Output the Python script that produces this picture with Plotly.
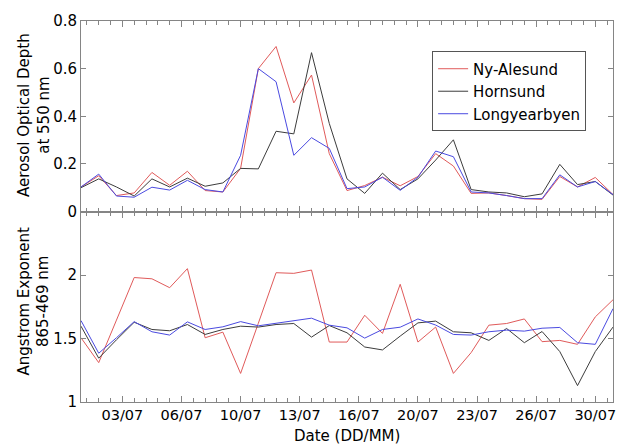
import plotly.graph_objects as go

days = list(range(1, 32))

aod_ny = [0.103, 0.150, 0.067, 0.078, 0.164, 0.110, 0.169, 0.088, 0.082, 0.181,
          0.600, 0.693, 0.456, 0.573, 0.243, 0.088, 0.109, 0.144, 0.108, 0.147,
          0.243, 0.191, 0.076, 0.078, 0.067, 0.054, 0.051, 0.147, 0.103, 0.143, 0.071]
aod_horn = [0.100, 0.137, 0.103, 0.065, 0.137, 0.103, 0.140, 0.106, 0.120, 0.181,
            0.179, 0.337, 0.326, 0.667, 0.370, 0.137, 0.076, 0.161, 0.092, 0.137,
            0.216, 0.301, 0.092, 0.082, 0.078, 0.062, 0.074, 0.198, 0.113, 0.126, 0.069]
aod_long = [0.103, 0.157, 0.065, 0.060, 0.102, 0.090, 0.131, 0.092, 0.082, 0.236,
            0.600, 0.545, 0.236, 0.310, 0.265, 0.096, 0.103, 0.144, 0.089, 0.144,
            0.254, 0.230, 0.082, 0.078, 0.067, 0.054, 0.054, 0.154, 0.103, 0.126, 0.071]

ae_ny = [1.506, 1.310, 1.645, 1.980, 1.970, 1.900, 2.050, 1.506, 1.550, 1.225,
         1.620, 2.018, 2.013, 2.039, 1.472, 1.472, 1.683, 1.540, 1.927, 1.472,
         1.590, 1.225, 1.389, 1.605, 1.618, 1.654, 1.475, 1.485, 1.454, 1.670, 1.805]
ae_horn = [1.597, 1.345, 1.490, 1.628, 1.571, 1.561, 1.610, 1.532, 1.571, 1.597,
           1.590, 1.610, 1.618, 1.511, 1.602, 1.545, 1.433, 1.410, 1.519, 1.623,
           1.637, 1.553, 1.545, 1.485, 1.579, 1.467, 1.555, 1.397, 1.129, 1.397, 1.590]
ae_long = [1.641, 1.384, 1.506, 1.633, 1.553, 1.527, 1.631, 1.571, 1.592, 1.633,
           1.600, 1.618, 1.639, 1.660, 1.605, 1.584, 1.503, 1.571, 1.589, 1.654,
           1.606, 1.532, 1.527, 1.553, 1.566, 1.558, 1.581, 1.587, 1.467, 1.454, 1.735]

series_names = ["Ny-Alesund", "Hornsund", "Longyearbyen"]
series_colors = ["#e05a5a", "#3c3c3c", "#4a4ae0"]

x_tickvals = [10 / 3, 20 / 3, 10, 40 / 3, 50 / 3, 20, 70 / 3, 80 / 3, 30]
x_ticktext = ["03/07", "06/07", "10/07", "13/07", "16/07", "20/07", "23/07", "26/07", "30/07"]
x_minor = [k * 2 / 3 for k in range(2, 47)]

aod_ticks = [0, 0.2, 0.4, 0.6, 0.8]
aod_text = ["0", "0.2", "0.4", "0.6", "0.8"]
ae_ticks = [1, 1.5, 2]
ae_text = ["1", "1.5", "2"]

FONT = "DejaVu Sans"
AX = "#858585"

fig = go.Figure()
for name, col, ya, yb in zip(series_names, series_colors,
                             [aod_ny, aod_horn, aod_long], [ae_ny, ae_horn, ae_long]):
    fig.add_trace(go.Scatter(x=days, y=ya, mode="lines", name=name,
                             line=dict(color=col, width=1), xaxis="x", yaxis="y"))
    fig.add_trace(go.Scatter(x=days, y=yb, mode="lines", name=name, showlegend=False,
                             line=dict(color=col, width=1), xaxis="x2", yaxis="y2"))

common_x = dict(range=[1, 31], tickmode="array", tickvals=x_tickvals, ticktext=x_ticktext,
                ticks="inside", ticklen=6, tickcolor=AX, showline=True, linecolor=AX,
                linewidth=1, mirror="ticks", showgrid=False, zeroline=False,
                minor=dict(tickvals=x_minor, ticks="inside", ticklen=4, tickcolor=AX,
                           showgrid=False))
common_y = dict(ticks="inside", ticklen=5, tickcolor=AX, showline=True, linecolor=AX,
                linewidth=1, mirror="ticks", showgrid=False, zeroline=False,
                tickmode="array")

fig.update_layout(
    width=628, height=448,
    margin=dict(l=81, r=14, t=15, b=46),
    paper_bgcolor="white", plot_bgcolor="white",
    font=dict(family=FONT, size=15, color="black"),
    xaxis=dict(common_x, domain=[0, 1], anchor="y", showticklabels=False),
    yaxis=dict(common_y, domain=[0.5, 1], anchor="x", range=[0, 0.8],
               tickvals=aod_ticks, ticktext=aod_text),
    xaxis2=dict(common_x, domain=[0, 1], anchor="y2", showticklabels=True,
                matches="x", tickfont=dict(family=FONT, size=14.5)),
    yaxis2=dict(common_y, domain=[0, 0.5], anchor="x2", range=[1, 2.5],
                tickvals=ae_ticks, ticktext=ae_text),
    legend=dict(x=0.66, y=0.92, xanchor="left", yanchor="top",
                bgcolor="white", bordercolor="#555555", borderwidth=1,
                itemwidth=30, font=dict(family=FONT, size=15), tracegroupgap=0),
    showlegend=True,
    annotations=[
        dict(text="Aerosol Optical Depth<br>at 550 nm", textangle=-90, xref="paper",
             yref="paper", x=-0.088, y=0.754, xanchor="center", yanchor="middle",
             showarrow=False, font=dict(family=FONT, size=15)),
        dict(text="Angstrom Exponent<br>865-469 nm", textangle=-90, xref="paper",
             yref="paper", x=-0.088, y=0.264, xanchor="center", yanchor="middle",
             showarrow=False, font=dict(family=FONT, size=15)),
        dict(text="Date (DD/MM)", xref="paper", yref="paper", x=0.5, y=-0.088,
             xanchor="center", yanchor="middle", showarrow=False,
             font=dict(family=FONT, size=15)),
    ],
)

fig.write_html("out.html")
